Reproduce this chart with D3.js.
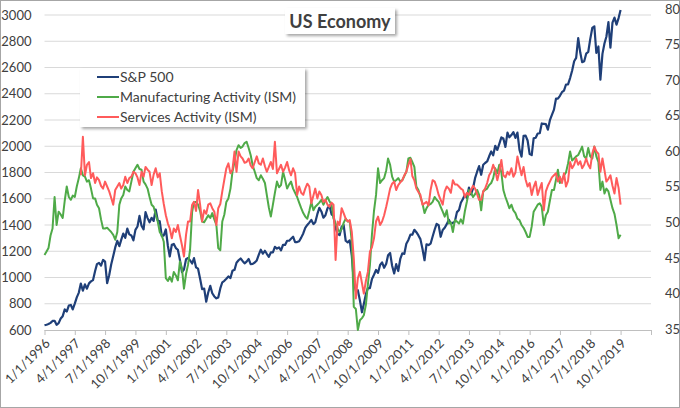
<!DOCTYPE html>
<html>
<head>
<meta charset="utf-8">
<script src="https://cdn.jsdelivr.net/npm/d3@7"></script>
<style>
  body { margin: 0; background: #fff; }
  svg { display: block; }
  text { font-family: Lato, "Open Sans", sans-serif; }
</style>
</head>
<body>
<div id="chart"></div>
<script>
// monthly values, Jan 1996 .. Oct 2019
var startMonth = "1996-01-01"
var svcStartMonth = "1997-07-01"
var axisEnd = "2021-01-01"

var spx = [
  636.02, 640.43, 645.50, 654.17, 669.12, 670.63, 639.95, 651.99, 687.31, 705.27, 757.02, 740.74,
  786.16, 790.82, 757.12, 801.34, 848.28, 885.14, 954.29, 899.47, 947.28, 914.62, 955.40, 970.43,
  980.28, 1049.34, 1101.75, 1111.75, 1090.82, 1133.84, 1120.67, 957.28, 1017.01, 1098.67, 1163.63, 1229.23,
  1279.64, 1238.33, 1286.37, 1335.18, 1301.84, 1372.71, 1328.72, 1320.41, 1282.71, 1362.93, 1388.91, 1469.25,
  1394.46, 1366.42, 1498.58, 1452.43, 1420.60, 1454.60, 1430.83, 1517.68, 1436.51, 1429.40, 1314.95, 1320.28,
  1366.01, 1239.94, 1160.33, 1249.46, 1255.82, 1224.42, 1211.23, 1133.58, 1040.94, 1059.78, 1139.45, 1148.08,
  1130.20, 1106.73, 1147.39, 1076.92, 1067.14, 989.82, 911.62, 916.07, 815.28, 885.76, 936.31, 879.82,
  855.70, 841.15, 848.18, 916.92, 963.59, 974.50, 990.31, 1008.01, 995.97, 1050.71, 1058.20, 1111.92,
  1131.13, 1144.94, 1126.21, 1107.30, 1120.68, 1140.84, 1101.72, 1104.24, 1114.58, 1130.20, 1173.82, 1211.92,
  1181.27, 1203.60, 1180.59, 1156.85, 1191.50, 1191.33, 1234.18, 1220.33, 1228.81, 1207.01, 1249.48, 1248.29,
  1280.08, 1280.66, 1294.83, 1310.61, 1270.09, 1270.20, 1276.66, 1303.82, 1335.85, 1377.94, 1400.63, 1418.30,
  1438.24, 1406.82, 1420.86, 1482.37, 1530.62, 1503.35, 1455.27, 1473.99, 1526.75, 1549.38, 1481.14, 1468.36,
  1378.55, 1330.63, 1322.70, 1385.59, 1400.38, 1280.00, 1267.38, 1282.83, 1166.36, 968.75, 896.24, 903.25,
  825.88, 735.09, 797.87, 872.81, 919.14, 919.32, 987.48, 1020.62, 1057.08, 1036.19, 1095.63, 1115.10,
  1073.87, 1104.49, 1169.43, 1186.69, 1089.41, 1030.71, 1101.60, 1049.33, 1141.20, 1183.26, 1180.55, 1257.64,
  1286.12, 1327.22, 1325.83, 1363.61, 1345.20, 1320.64, 1292.28, 1218.89, 1131.42, 1253.30, 1246.96, 1257.60,
  1312.41, 1365.68, 1408.47, 1397.91, 1310.33, 1362.16, 1379.32, 1406.58, 1440.67, 1412.16, 1416.18, 1426.19,
  1498.11, 1514.68, 1569.19, 1597.57, 1630.74, 1606.28, 1685.73, 1632.97, 1681.55, 1756.54, 1805.81, 1848.36,
  1782.59, 1859.45, 1872.34, 1883.95, 1923.57, 1960.23, 1930.67, 2003.37, 1972.29, 2018.05, 2067.56, 2058.90,
  1994.99, 2104.50, 2067.89, 2085.51, 2107.39, 2063.11, 2103.84, 1972.18, 1920.03, 2079.36, 2080.41, 2043.94,
  1940.24, 1932.23, 2059.74, 2065.30, 2096.95, 2098.86, 2173.60, 2170.95, 2168.27, 2126.15, 2198.81, 2238.83,
  2278.87, 2363.64, 2362.72, 2384.20, 2411.80, 2423.41, 2470.30, 2471.65, 2519.36, 2575.26, 2647.58, 2673.61,
  2823.81, 2713.83, 2640.87, 2648.05, 2705.27, 2718.37, 2816.29, 2901.52, 2913.98, 2711.74, 2760.17, 2506.85,
  2704.10, 2784.49, 2834.40, 2945.83, 2752.06, 2941.76, 2980.38, 2926.46, 2976.74, 3037.56
]

var ismMfg = [
  45.7, 46.2, 46.7, 48.5, 49.5, 54.0, 50.0, 51.9, 51.5, 51.0, 53.5, 55.5,
  54.0, 53.6, 54.2, 54.0, 55.5, 56.7, 58.1, 57.1, 56.9, 56.2, 56.4, 55.2,
  53.8, 53.8, 52.9, 52.4, 50.8, 49.5, 49.5, 49.6, 49.3, 49.0, 48.6, 47.9,
  49.0, 52.9, 53.8, 54.3, 55.5, 55.0, 54.8, 56.2, 57.6, 58.1, 58.6, 58.0,
  57.9, 56.2, 55.8, 55.2, 54.0, 52.9, 52.6, 51.5, 50.5, 49.0, 48.5, 47.6,
  42.4, 42.0, 42.6, 41.9, 43.3, 42.8, 42.1, 44.8, 43.8, 40.9, 43.0, 44.3,
  46.5, 51.9, 53.3, 53.3, 52.9, 52.0, 50.5, 50.4, 50.9, 51.4, 51.0, 51.7,
  50.8, 50.0, 46.7, 46.4, 50.5, 51.5, 53.3, 53.8, 55.2, 57.6, 59.0, 60.7,
  61.4, 61.0, 61.2, 61.7, 61.9, 61.0, 60.0, 58.5, 57.6, 56.7, 56.4, 57.1,
  56.6, 56.0, 54.3, 52.5, 51.2, 52.9, 54.6, 56.2, 55.4, 55.7, 57.6, 56.5,
  55.2, 55.8, 56.2, 55.2, 54.6, 54.0, 53.2, 52.4, 51.7, 51.2, 50.9, 52.0,
  53.3, 52.1, 52.6, 52.9, 53.2, 53.6, 52.9, 53.5, 54.0, 53.4, 52.9, 50.9,
  50.2, 49.5, 49.0, 49.4, 50.3, 50.9, 50.5, 50.5, 47.6, 38.3, 38.0, 35.0,
  36.4, 36.7, 37.1, 38.6, 41.5, 44.3, 48.6, 52.0, 54.3, 58.1, 56.0, 56.4,
  56.7, 57.8, 59.5, 58.6, 56.9, 56.2, 56.4, 56.7, 56.2, 56.4, 57.0, 57.6,
  59.5, 59.6, 59.0, 58.3, 55.5, 55.0, 54.0, 53.1, 51.7, 52.4, 52.9, 53.0,
  53.3, 54.0, 53.6, 53.3, 52.6, 51.9, 51.2, 52.1, 50.2, 50.4, 49.0, 50.7,
  50.5, 50.2, 50.8, 50.2, 52.0, 53.4, 55.0, 54.6, 54.0, 54.4, 55.0, 54.3,
  52.1, 54.8, 55.0, 55.2, 55.7, 56.0, 56.7, 58.1, 57.4, 58.6, 57.5, 55.0,
  54.0, 53.2, 52.4, 52.9, 52.1, 51.7, 50.9, 50.7, 50.0, 49.6, 49.0, 48.3,
  48.3, 49.8, 51.9, 52.4, 52.9, 53.1, 52.6, 50.0, 51.4, 51.9, 53.5, 55.0,
  55.0, 56.5, 57.9, 56.0, 56.4, 57.1, 57.5, 58.8, 60.5, 59.2, 59.5, 59.8,
  60.0, 60.6, 61.2, 59.8, 59.5, 61.0, 59.8, 59.5, 61.2, 59.8, 59.0, 55.0,
  56.2, 54.5, 55.2, 54.8, 53.6, 52.4, 51.6, 50.0, 48.1, 48.6
]

// services index starts Jul 1997
var ismSvc = [
  57.1, 62.6, 57.1, 58.6, 59.0, 56.7,
  57.4, 56.0, 56.8, 56.4, 55.6, 55.2, 56.2, 55.5, 54.8, 53.9, 52.9, 55.0,
  55.5, 56.0, 55.2, 55.7, 56.9, 56.0, 56.7, 56.9, 57.6, 57.4, 56.8, 55.7,
  57.6, 56.9, 58.3, 57.9, 57.6, 55.7, 57.2, 58.1, 56.8, 57.4, 54.8, 53.0,
  51.4, 50.2, 49.5, 48.1, 49.5, 49.0, 50.0, 48.5, 47.1, 45.5, 48.6, 50.5,
  50.5, 52.9, 53.3, 52.0, 55.0, 52.9, 50.5, 52.1, 51.6, 52.9, 53.1, 52.4,
  51.9, 50.0, 52.4, 53.0, 54.8, 56.5, 58.1, 58.8, 57.4, 57.9, 60.5, 57.6,
  60.5, 59.8, 59.5, 58.9, 59.0, 59.5, 58.5, 58.1, 59.0, 59.8, 58.8, 58.6,
  59.5, 58.4, 57.6, 58.3, 59.0, 58.0, 61.9, 57.4, 58.0, 58.6, 57.6, 58.2,
  59.0, 57.8, 57.1, 58.1, 57.4, 54.3, 55.5, 54.6, 54.3, 55.2, 55.9, 55.5,
  53.1, 54.2, 55.2, 53.8, 54.8, 54.3, 53.3, 53.6, 52.9, 52.6, 53.2, 52.9,
  45.0, 50.5, 50.0, 52.4, 51.7, 50.9, 50.5, 50.7, 49.0, 45.2, 39.5, 42.4,
  43.3, 41.7, 40.2, 42.0, 43.3, 46.2, 46.8, 48.1, 50.5, 51.2, 50.0, 50.5,
  51.4, 52.6, 53.8, 55.2, 55.9, 56.2, 55.0, 55.7, 56.1, 56.4, 57.1, 57.6,
  58.6, 59.4, 57.0, 56.4, 55.2, 54.7, 54.3, 52.9, 53.1, 53.3, 52.8, 55.0,
  56.4, 56.2, 55.4, 54.3, 53.6, 52.9, 54.8, 55.5, 55.2, 54.6, 56.4, 55.8,
  55.8, 55.5, 55.2, 55.0, 54.0, 54.6, 54.3, 55.0, 55.6, 55.2, 54.4, 53.6,
  53.6, 54.8, 55.2, 56.0, 57.1, 57.6, 58.6, 57.8, 56.4, 57.6, 59.3, 57.1,
  56.8, 57.6, 57.2, 58.1, 56.9, 57.5, 59.8, 58.4, 57.1, 58.3, 56.5, 55.5,
  56.0, 54.3, 55.4, 56.2, 54.3, 55.2, 56.0, 52.1, 54.8, 55.6, 56.2, 56.8,
  57.1, 57.4, 56.2, 56.9, 56.0, 57.4, 55.5, 56.3, 59.0, 58.1, 58.6, 59.5,
  58.6, 59.1, 58.1, 58.6, 59.5, 58.6, 58.1, 60.2, 61.2, 60.5, 60.2, 57.6,
  59.5, 57.8, 56.2, 56.6, 57.1, 55.6, 54.5, 56.7, 55.3, 52.9
]

var seriesNames = ["S&P 500", "Manufacturing Activity (ISM)", "Services Activity (ISM)"]
var seriesColors = ["#1f3f78", "#4faa48", "#ff5b5b"]

var leftTicks = [600, 800, 1000, 1200, 1400, 1600, 1800, 2000, 2200, 2400, 2600, 2800, 3000]
var rightTicks = [35, 40, 45, 50, 55, 60, 65, 70, 75, 80]
var xTickLabels = ["1/1/1996", "4/1/1997", "7/1/1998", "10/1/1999", "1/1/2001", "4/1/2002",
  "7/1/2003", "10/1/2004", "1/1/2006", "4/1/2007", "7/1/2008", "10/1/2009", "1/1/2011",
  "4/1/2012", "7/1/2013", "10/1/2014", "1/1/2016", "4/1/2017", "7/1/2018", "10/1/2019"]

var W = 680, H = 408
var plot = { left: 44.5, right: 651, top: 15, bottom: 330 }
var textColor = "#404040"

var svg = d3.select("#chart").append("svg")
  .attr("width", W)
  .attr("height", H)

var defs = svg.append("defs")
defs.append("filter")
  .attr("id", "shadow")
  .attr("x", "-10%").attr("y", "-20%")
  .attr("width", "130%").attr("height", "160%")
  .append("feDropShadow")
  .attr("dx", 2).attr("dy", 2)
  .attr("stdDeviation", 1.5)
  .attr("flood-color", "#000")
  .attr("flood-opacity", 0.35)

// outer frame
svg.append("rect")
  .attr("x", 0.5).attr("y", 0.5)
  .attr("width", W - 1).attr("height", H - 1)
  .attr("fill", "#fff")
  .attr("stroke", "#a6a6a6")

var parse = d3.timeParse("%Y-%m-%d")
var parseLabel = d3.timeParse("%m/%d/%Y")
var start = parse(startMonth)
var svcStart = parse(svcStartMonth)

var x = d3.scaleTime()
  .domain([start, parse(axisEnd)])
  .range([plot.left, plot.right])
var yL = d3.scaleLinear().domain([600, 3000]).range([plot.bottom, plot.top])
var yR = d3.scaleLinear().domain([35, 80]).range([plot.bottom, plot.top])
// right-hand labels sit a little wider apart than the gridlines in the original
var yRLabels = d3.scaleLinear().domain([35, 80]).range([plot.bottom - 1, 9])

// gridlines
svg.append("g")
  .selectAll("line")
  .data(leftTicks.slice(1))
  .join("line")
  .attr("x1", plot.left).attr("x2", plot.right)
  .attr("y1", function (d) { return yL(d) })
  .attr("y2", function (d) { return yL(d) })
  .attr("stroke", "#d9d9d9")
  .attr("stroke-width", 1)

// left axis
var gL = svg.append("g")
  .attr("transform", "translate(" + plot.left + ",0)")
  .call(d3.axisLeft(yL).tickValues(leftTicks).tickSize(0).tickPadding(13).tickFormat(d3.format("d")))
gL.select(".domain").remove()

// right axis
var gR = svg.append("g")
  .attr("transform", "translate(" + plot.right + ",0)")
  .call(d3.axisRight(yRLabels).tickValues(rightTicks).tickSize(0).tickPadding(14))
gR.select(".domain").remove()

// bottom axis
var tickDates = xTickLabels.map(function (s) { return parseLabel(s) })
tickDates.push(parse(axisEnd))
var gX = svg.append("g")
  .attr("transform", "translate(0," + plot.bottom + ")")
  .call(d3.axisBottom(x)
    .tickValues(tickDates)
    .tickSize(5)
    .tickFormat(function (d, i) { return xTickLabels[i] || "" }))
gX.select(".domain")
  .attr("d", "M" + plot.left + ",0.5H" + plot.right)
  .attr("stroke", "#bfbfbf")
gX.selectAll(".tick line").attr("stroke", "#bfbfbf")
gX.selectAll(".tick text")
  .attr("x", 0).attr("y", 0).attr("dy", "0.35em")
  .attr("text-anchor", "end")
  .attr("transform", "translate(2.5,11) rotate(-45)")

svg.selectAll(".tick text")
  .attr("fill", textColor)
  .style("font-size", "13px")
  .style("font-family", "Lato, 'Open Sans', sans-serif")

// series
function monthly(values, first) {
  return values.map(function (v, i) { return { date: d3.timeMonth.offset(first, i), value: v } })
}
var lineL = d3.line()
  .x(function (d) { return x(d.date) })
  .y(function (d) { return yL(d.value) })
var lineR = d3.line()
  .x(function (d) { return x(d.date) })
  .y(function (d) { return yR(d.value) })

svg.append("path")
  .datum(monthly(spx, start))
  .attr("d", lineL)
  .attr("fill", "none")
  .attr("stroke", seriesColors[0])
  .attr("stroke-width", 2.2)
  .attr("stroke-linejoin", "round")

svg.append("path")
  .datum(monthly(ismMfg, start))
  .attr("d", lineR)
  .attr("fill", "none")
  .attr("stroke", seriesColors[1])
  .attr("stroke-width", 2)
  .attr("stroke-linejoin", "round")

svg.append("path")
  .datum(monthly(ismSvc, svcStart))
  .attr("d", lineR)
  .attr("fill", "none")
  .attr("stroke", seriesColors[2])
  .attr("stroke-width", 2)
  .attr("stroke-linejoin", "round")

// title box
svg.append("rect")
  .attr("x", 285).attr("y", 8)
  .attr("width", 110).attr("height", 26)
  .attr("fill", "#fff")
  .attr("filter", "url(#shadow)")
svg.append("text")
  .attr("x", 340).attr("y", 27.5)
  .attr("text-anchor", "middle")
  .attr("fill", textColor)
  .style("font-size", "18px")
  .style("font-weight", "bold")
  .text("US Economy")

// legend
var legend = svg.append("g")
legend.append("rect")
  .attr("x", 80).attr("y", 68)
  .attr("width", 225).attr("height", 59)
  .attr("fill", "#fff")
  .attr("filter", "url(#shadow)")
var rows = legend.selectAll("g.row")
  .data(seriesNames)
  .join("g")
  .attr("class", "row")
  .attr("transform", function (d, i) { return "translate(0," + (77 + i * 20) + ")" })
rows.append("line")
  .attr("x1", 97).attr("x2", 119)
  .attr("stroke", function (d, i) { return seriesColors[i] })
  .attr("stroke-width", 2)
rows.append("text")
  .attr("x", 120)
  .attr("dy", "0.35em")
  .attr("fill", textColor)
  .style("font-size", "14px")
  .text(function (d) { return d })
</script>
</body>
</html>
